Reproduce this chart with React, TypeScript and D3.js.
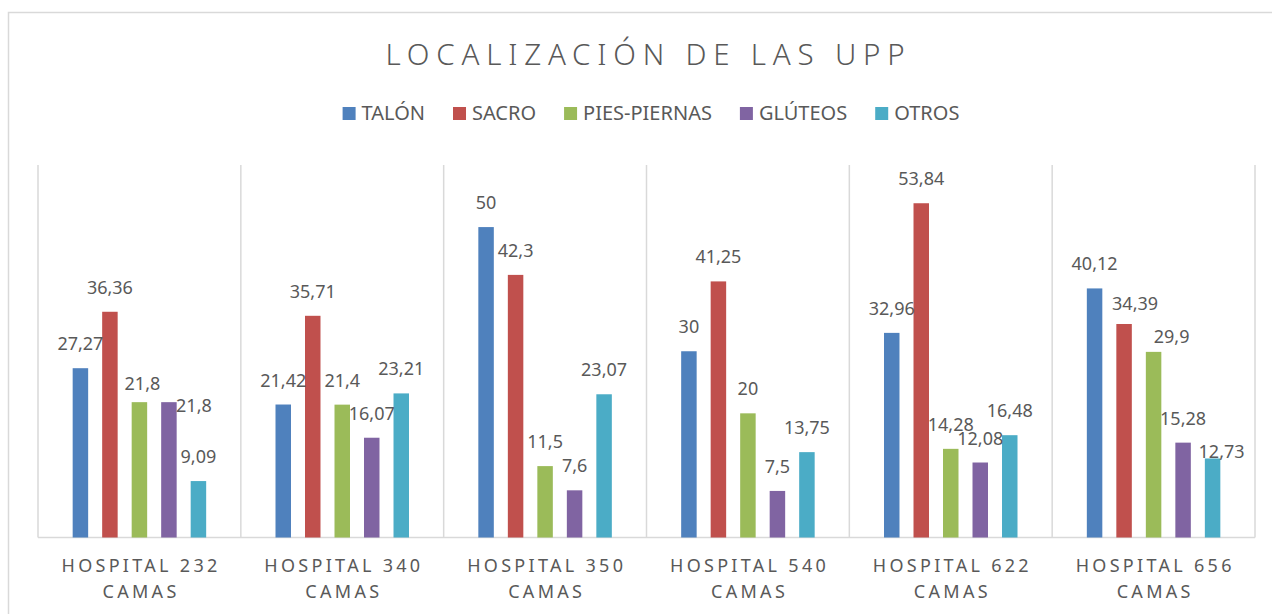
import { useEffect, useRef } from 'react'
import * as d3 from 'd3'

const hospitals = ["HOSPITAL 232 CAMAS", "HOSPITAL 340 CAMAS", "HOSPITAL 350 CAMAS", "HOSPITAL 540 CAMAS", "HOSPITAL 622 CAMAS", "HOSPITAL 656 CAMAS"]
const seriesNames = ["TALÓN", "SACRO", "PIES-PIERNAS", "GLÚTEOS", "OTROS"]
const seriesColors = ["#4F81BD", "#C0504D", "#9BBB59", "#8064A2", "#4BACC6"]

const talon = [27.27, 21.42, 50, 30, 32.96, 40.12]
const sacro = [36.36, 35.71, 42.3, 41.25, 53.84, 34.39]
const piesPiernas = [21.8, 21.4, 11.5, 20, 14.28, 29.9]
const gluteos = [21.8, 16.07, 7.6, 7.5, 12.08, 15.28]
const otros = [9.09, 23.21, 23.07, 13.75, 16.48, 12.73]

const seriesValues = [talon, sacro, piesPiernas, gluteos, otros]

// labels that were dragged by hand in the original (hospital-series -> dx, dy)
const labelNudge: Record<string, [number, number]> = {
  "0-2": [3, 6],
  "0-3": [25, 28],
  "5-1": [11, 4],
  "5-2": [18, 9],
  "5-4": [9, 18],
}

const W = 1272
const H = 614
const FONT = "'Noto Sans', 'Liberation Sans', sans-serif"
const TEXT = "#595959"
const GRID = "#d9d9d9"

export default function App() {
  const svgRef = useRef<SVGSVGElement>(null)

  useEffect(() => {
    if (!svgRef.current) return
    const svg = d3.select(svgRef.current)
    svg.selectAll("*").remove()

    const plot = { left: 38, right: 1255, top: 165, bottom: 537.5 }

    // chart frame
    svg.append("rect")
      .attr("x", 8.5).attr("y", 12.5)
      .attr("width", W + 20).attr("height", H + 20)
      .attr("fill", "#fff")
      .attr("stroke", GRID).attr("stroke-width", 1.5)

    // title
    const titleLs = 6.8
    svg.append("text")
      .attr("x", 645 + titleLs / 2).attr("y", 64.5)
      .attr("text-anchor", "middle")
      .attr("font-family", FONT)
      .attr("font-weight", 300)
      .attr("font-size", 29.5)
      .attr("letter-spacing", titleLs)
      .attr("fill", TEXT)
      .text("LOCALIZACIÓN DE LAS UPP")

    // scales
    const x0 = d3.scaleBand<string>()
      .domain(hospitals)
      .range([plot.left, plot.right])
      .padding(0)

    const x1 = d3.scaleBand<number>()
      .domain(d3.range(seriesNames.length))
      .range([0, x0.bandwidth()])
      .paddingInner(0.475)
      .paddingOuter(1.175)

    const y = d3.scaleLinear()
      .domain([0, 60])
      .range([plot.bottom, plot.top])

    // vertical category gridlines
    const bounds = hospitals.map(h => x0(h)!).concat([plot.right])
    svg.append("g")
      .selectAll("line")
      .data(bounds)
      .join("line")
      .attr("x1", d => d).attr("x2", d => d)
      .attr("y1", plot.top).attr("y2", plot.bottom)
      .attr("stroke", GRID).attr("stroke-width", 1.5)

    // axis baseline
    svg.append("line")
      .attr("x1", plot.left).attr("x2", plot.right)
      .attr("y1", plot.bottom).attr("y2", plot.bottom)
      .attr("stroke", GRID).attr("stroke-width", 1.5)

    // bars
    const cells = hospitals.flatMap((h, hi) =>
      seriesValues.map((vals, si) => ({ h, hi, si, v: vals[hi] }))
    )

    svg.append("g")
      .selectAll("rect")
      .data(cells)
      .join("rect")
      .attr("x", d => x0(d.h)! + x1(d.si)!)
      .attr("y", d => y(d.v))
      .attr("width", x1.bandwidth())
      .attr("height", d => y(0) - y(d.v))
      .attr("fill", d => seriesColors[d.si])

    // value labels
    const fmt = (v: number) => String(v).replace(".", ",")
    svg.append("g")
      .selectAll("text")
      .data(cells)
      .join("text")
      .attr("x", d => x0(d.h)! + x1(d.si)! + x1.bandwidth() / 2 + (labelNudge[`${d.hi}-${d.si}`]?.[0] ?? 0))
      .attr("y", d => y(d.v) - 18 + (labelNudge[`${d.hi}-${d.si}`]?.[1] ?? 0))
      .attr("text-anchor", "middle")
      .attr("font-family", FONT)
      .attr("font-size", 18)
      .attr("fill", TEXT)
      .text(d => fmt(d.v))

    // category labels, two lines
    const catLs = 3.3
    const cat = svg.append("g")
      .selectAll("text")
      .data(hospitals)
      .join("text")
      .attr("text-anchor", "middle")
      .attr("font-family", FONT)
      .attr("font-size", 18)
      .attr("letter-spacing", catLs)
      .attr("fill", TEXT)
    cat.each(function (h) {
      const words = h.split(" ")
      const lines = [words.slice(0, 2).join(" "), words.slice(2).join(" ")]
      const cx = x0(h)! + x0.bandwidth() / 2 + catLs / 2
      const t = d3.select(this)
      lines.forEach((ln, i) => {
        t.append("tspan")
          .attr("x", cx)
          .attr("y", 572 + i * 25.5)
          .text(ln)
      })
    })

    // legend
    const legend = svg.append("g")
    const items = seriesNames.map((name, i) => {
      const g = legend.append("g")
      g.append("rect")
        .attr("width", 13).attr("height", 13)
        .attr("y", 107)
        .attr("fill", seriesColors[i])
      const t = g.append("text")
        .attr("x", 19).attr("y", 120)
        .attr("font-family", FONT)
        .attr("font-size", 20)
        .attr("fill", TEXT)
        .text(name)
      const w = 19 + (t.node() as SVGTextElement).getComputedTextLength()
      return { g, w }
    })
    const gap = 28
    const total = d3.sum(items, d => d.w) + gap * (items.length - 1)
    let cx = 651 - total / 2
    items.forEach(it => {
      it.g.attr("transform", `translate(${cx},0)`)
      cx += it.w + gap
    })
  }, [])

  return (
    <svg
      ref={svgRef}
      width={W}
      height={H}
      style={{ position: "absolute", left: 0, top: 0, background: "#fff" }}
    />
  )
}
